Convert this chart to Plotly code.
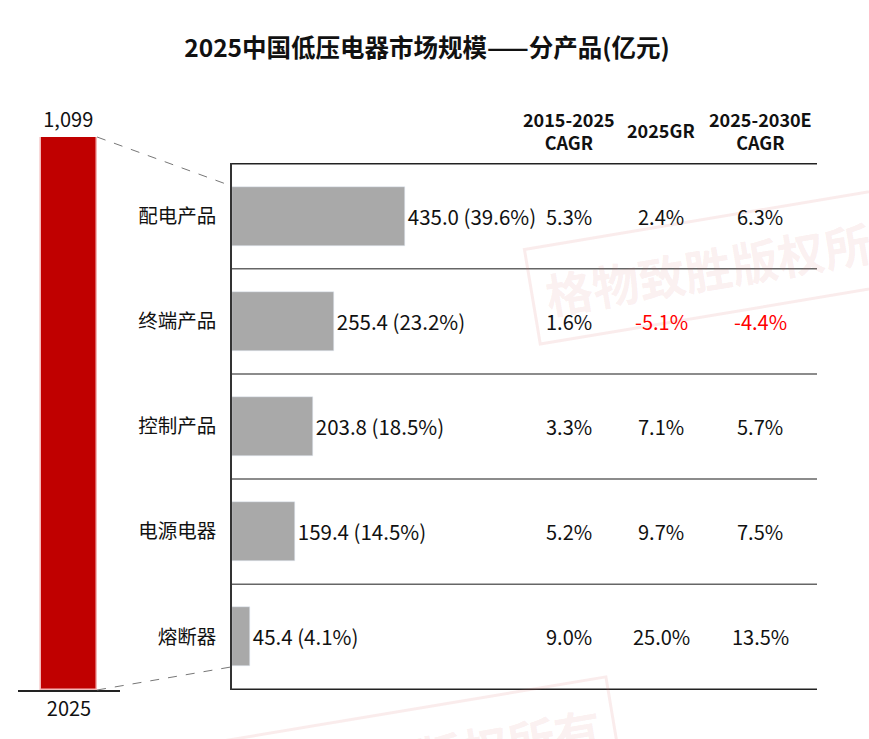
import plotly.graph_objects as go

W, H = 869, 739
FONT = "Noto Sans CJK SC"

# data
total_year = ["2025"]
total_value = [1099]

categories = ["配电产品", "终端产品", "控制产品", "电源电器", "熔断器"]
sizes = [435.0, 255.4, 203.8, 159.4, 45.4]
shares = [39.6, 23.2, 18.5, 14.5, 4.1]

col_headers = ["2015-2025<br>CAGR", "2025GR", "2025-2030E<br>CAGR"]
cagr_15_25 = [5.3, 1.6, 3.3, 5.2, 9.0]
gr_2025 = [2.4, -5.1, 7.1, 9.7, 25.0]
cagr_25_30 = [6.3, -4.4, 5.7, 7.5, 13.5]


def px(x):
    return x / W


def py(y):
    return 1 - y / H


# layout geometry (pixels)
left_dom = [px(18), px(120)]
left_ydom = [py(690), py(137)]
right_dom = [px(232), px(817)]
right_ydom = [py(690), py(163)]
red_w = 0.55
gray_w = 0.56
x2_max = 1470

fig = go.Figure()

fig.add_trace(go.Bar(
    x=total_year, y=total_value, width=red_w,
    marker=dict(color="#C00000", line=dict(color="#F4B6B6", width=1.5)),
    text=[f"{v:,}" for v in total_value], textposition="outside",
    textfont=dict(size=20, color="#111", family=FONT),
    cliponaxis=False, xaxis="x", yaxis="y", hoverinfo="skip",
))

fig.add_trace(go.Bar(
    y=categories, x=sizes, orientation="h", width=gray_w,
    marker=dict(color="#A9A9A9"),
    text=[f"{s:.1f} ({p:.1f}%)" for s, p in zip(sizes, shares)],
    textposition="outside",
    textfont=dict(size=20.5, color="#111", family=FONT),
    cliponaxis=False, xaxis="x2", yaxis="y2", hoverinfo="skip",
))

shapes = []
# row separators
for i in range(len(categories) + 1):
    shapes.append(dict(type="line", xref="x2 domain", yref="y2",
                       x0=0, x1=1, y0=i - 0.5, y1=i - 0.5,
                       line=dict(color="#666" if 0 < i < len(categories) else "#222", width=1.5)))


# connectors between the total bar and the breakdown
def y2_paper(v):
    n = len(categories)
    frac = (v + 0.5) / n
    return right_ydom[1] - frac * (right_ydom[1] - right_ydom[0])


red_right = left_dom[0] + (0.5 + red_w / 2) * (left_dom[1] - left_dom[0])
shapes.append(dict(type="line", xref="paper", yref="paper",
                   x0=red_right, y0=left_ydom[1], x1=right_dom[0], y1=y2_paper(-gray_w / 2),
                   line=dict(color="#777", width=1, dash="dash")))
shapes.append(dict(type="line", xref="paper", yref="paper",
                   x0=red_right, y0=left_ydom[0], x1=right_dom[0],
                   y1=y2_paper(len(categories) - 1 + gray_w / 2),
                   line=dict(color="#777", width=1, dash="dash")))

annotations = []

# watermark stamps
for wx, wy in [(px(731), py(263)), (px(415), py(757))]:
    annotations.append(dict(x=wx, y=wy, xref="paper", yref="paper",
                            xanchor="center", yanchor="middle",
                            text="<b>格物致胜版权所有</b>", showarrow=False, textangle=-9.5,
                            font=dict(size=47, family=FONT, color="rgba(215,110,110,0.11)"),
                            bordercolor="rgba(215,110,110,0.13)", borderwidth=3, borderpad=12))

col_x = [px(569), px(661), px(760)]
for cx, head in zip(col_x, col_headers):
    annotations.append(dict(x=cx, y=py(130), xref="paper", yref="paper",
                            xanchor="center", yanchor="middle",
                            text=f"<b>{head}</b>", showarrow=False,
                            font=dict(size=18, color="#111", family=FONT)))
for cx, col in zip(col_x, [cagr_15_25, gr_2025, cagr_25_30]):
    for cat, v in zip(categories, col):
        annotations.append(dict(x=cx, y=cat, xref="paper", yref="y2",
                                xanchor="center", yanchor="middle",
                                text=f"{v:.1f}%", showarrow=False,
                                font=dict(size=20, family=FONT,
                                          color="#FF0000" if v < 0 else "#111")))

fig.update_layout(
    width=W, height=H,
    margin=dict(l=0, r=0, t=0, b=0),
    paper_bgcolor="white", plot_bgcolor="white",
    showlegend=False,
    title=dict(text="<b>2025中国低压电器市场规模——分产品(亿元)</b>",
               x=px(427), xanchor="center", y=py(48), yanchor="middle",
               font=dict(size=24.5, color="#111", family=FONT)),
    xaxis=dict(domain=left_dom, range=[-0.5, 0.5], showline=True, linecolor="#222",
               linewidth=1.5, ticks="", showgrid=False,
               tickfont=dict(size=20, color="#111", family=FONT)),
    yaxis=dict(domain=left_ydom, range=[0, total_value[0]], visible=False),
    xaxis2=dict(domain=right_dom, range=[0, x2_max], visible=False, anchor="y2"),
    yaxis2=dict(domain=right_ydom, anchor="x2", autorange="reversed",
                showline=True, linecolor="#333", linewidth=1.5, ticks="",
                showgrid=False, ticklabelstandoff=10,
                tickfont=dict(size=19.5, color="#111", family=FONT)),
    shapes=shapes,
    annotations=annotations,
    bargap=0,
)

fig.write_html("out.html", config={"displayModeBar": False},
               post_script="document.body.style.margin='0';")
